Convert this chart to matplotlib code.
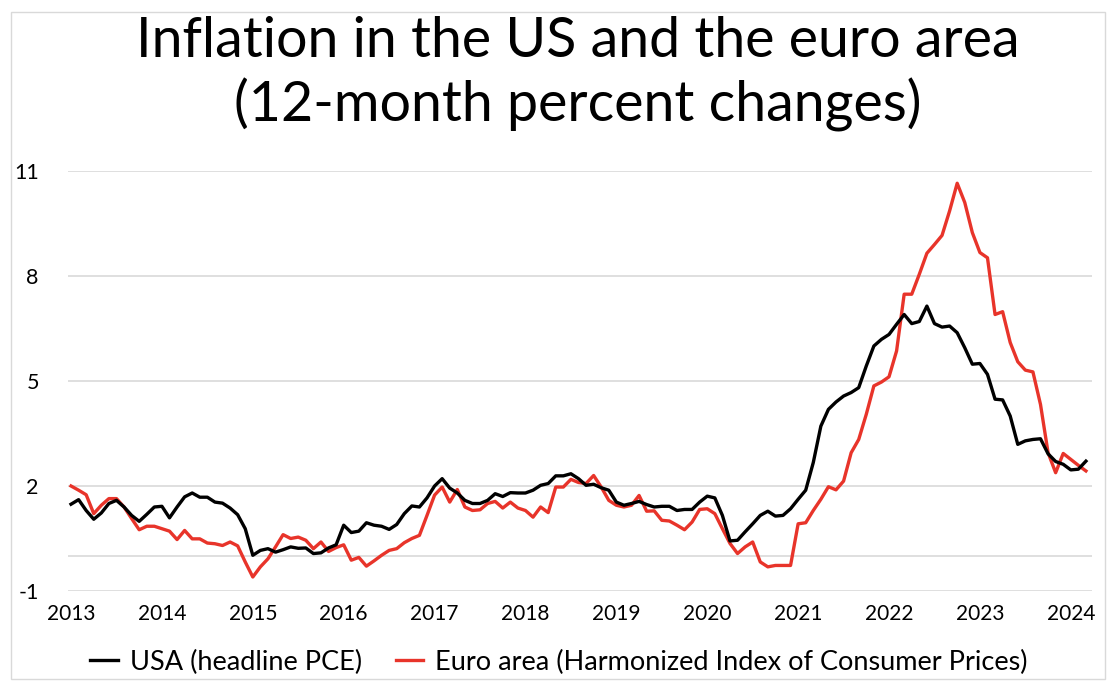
import matplotlib
matplotlib.use("Agg")
from matplotlib import pyplot as plt
from matplotlib.patches import Rectangle

plt.rcParams["font.family"] = ["Lato", "DejaVu Sans"]

# monthly, Jan 2013 .. Mar 2024
years = ["2013", "2014", "2015", "2016", "2017", "2018",
         "2019", "2020", "2021", "2022", "2023", "2024"]

usa_pce = [
    1.48, 1.61, 1.30, 1.05, 1.23, 1.50, 1.59, 1.40, 1.16, 0.99, 1.19, 1.40,
    1.42, 1.09, 1.40, 1.69, 1.80, 1.68, 1.68, 1.54, 1.51, 1.37, 1.18, 0.78,
    0.02, 0.16, 0.21, 0.11, 0.18, 0.26, 0.22, 0.23, 0.07, 0.09, 0.23, 0.32,
    0.88, 0.67, 0.71, 0.95, 0.88, 0.85, 0.76, 0.90, 1.21, 1.43, 1.40, 1.66,
    2.00, 2.21, 1.94, 1.80, 1.59, 1.50, 1.50, 1.59, 1.78, 1.70, 1.81, 1.80,
    1.80, 1.88, 2.02, 2.07, 2.29, 2.29, 2.35, 2.21, 2.02, 2.05, 1.95, 1.88,
    1.54, 1.45, 1.50, 1.56, 1.47, 1.40, 1.42, 1.42, 1.30, 1.33, 1.33, 1.54,
    1.71, 1.66, 1.16, 0.43, 0.45, 0.69, 0.92, 1.16, 1.28, 1.14, 1.16, 1.35,
    1.62, 1.88, 2.67, 3.71, 4.19, 4.40, 4.57, 4.67, 4.81, 5.43, 6.00, 6.19,
    6.33, 6.62, 6.90, 6.64, 6.70, 7.14, 6.64, 6.54, 6.57, 6.38, 5.95, 5.48,
    5.50, 5.19, 4.48, 4.46, 4.00, 3.19, 3.29, 3.33, 3.35, 2.92, 2.70, 2.62,
    2.46, 2.48, 2.71,
]

euro_hicp = [
    2.00, 1.88, 1.75, 1.21, 1.45, 1.64, 1.64, 1.40, 1.07, 0.75, 0.85, 0.85,
    0.78, 0.71, 0.47, 0.73, 0.49, 0.49, 0.37, 0.35, 0.30, 0.40, 0.29, -0.17,
    -0.60, -0.31, -0.08, 0.26, 0.61, 0.50, 0.54, 0.45, 0.21, 0.40, 0.13, 0.24,
    0.32, -0.12, -0.04, -0.29, -0.14, 0.02, 0.16, 0.21, 0.38, 0.50, 0.59, 1.16,
    1.74, 1.97, 1.54, 1.90, 1.40, 1.30, 1.32, 1.50, 1.56, 1.37, 1.54, 1.37,
    1.30, 1.11, 1.40, 1.24, 1.97, 1.97, 2.19, 2.10, 2.07, 2.30, 1.97, 1.59,
    1.45, 1.40, 1.45, 1.73, 1.28, 1.29, 1.02, 1.00, 0.88, 0.75, 0.97, 1.33,
    1.35, 1.21, 0.78, 0.36, 0.07, 0.26, 0.40, -0.17, -0.31, -0.27, -0.27, -0.27,
    0.92, 0.95, 1.30, 1.62, 1.98, 1.89, 2.14, 2.95, 3.33, 4.05, 4.86, 4.97,
    5.12, 5.86, 7.48, 7.48, 8.05, 8.65, 8.90, 9.16, 9.86, 10.65, 10.10, 9.24,
    8.67, 8.52, 6.90, 6.98, 6.10, 5.55, 5.31, 5.26, 4.33, 2.95, 2.38, 2.93,
    2.76, 2.59, 2.43,
]

y_ticks = [-1, 0, 2, 5, 8, 11]
y_labels = ["-1", "", "2", "5", "8", "11"]

months = list(range(len(usa_pce)))

fig = plt.figure(figsize=(11.14, 6.94), dpi=100)
ax = fig.add_axes([68 / 1114, 103 / 694, 1024 / 1114, 420 / 694])

l_us, = ax.plot(months, usa_pce, color="black", lw=2.4, zorder=3,
                solid_joinstyle="round")
l_eu, = ax.plot(months, euro_hicp, color="#e8342a", lw=2.4, zorder=2,
                solid_joinstyle="round")

ax.set_xlim(-0.4, 134.8)
ax.set_ylim(-1, 11)
ax.set_xticks(range(0, len(years) * 12, 12))
ax.set_xticklabels(years)
ax.set_yticks(y_ticks)
ax.set_yticklabels(y_labels)
ax.tick_params(axis="x", length=0, pad=9, labelsize=15)
ax.tick_params(axis="y", length=0, pad=21, labelsize=15.5)
ax.grid(axis="y", color="#d9d9d9", lw=1.2)
ax.set_axisbelow(True)
for s in ax.spines.values():
    s.set_visible(False)

fig.text(578 / 1114, 1 - 57 / 694, "Inflation in the US and the euro area",
         ha="center", va="baseline", fontsize=40)
fig.text(578 / 1114, 1 - 121.7 / 694, "(12-month percent changes)",
         ha="center", va="baseline", fontsize=40)

fig.legend([l_us, l_eu],
           ["USA (headline PCE)", "Euro area (Harmonized Index of Consumer Prices)"],
           loc="center", bbox_to_anchor=(559 / 1114, 32 / 694), ncol=2,
           frameon=False, fontsize=19.5, handlelength=1.0, handletextpad=0.45,
           columnspacing=1.25)

fig.add_artist(Rectangle((11 / 1114, 15 / 694), 1094 / 1114, 667 / 694,
                         transform=fig.transFigure, fill=False,
                         edgecolor="#d9d9d9", lw=1))

fig.savefig("out.png", dpi=100, facecolor="white")
